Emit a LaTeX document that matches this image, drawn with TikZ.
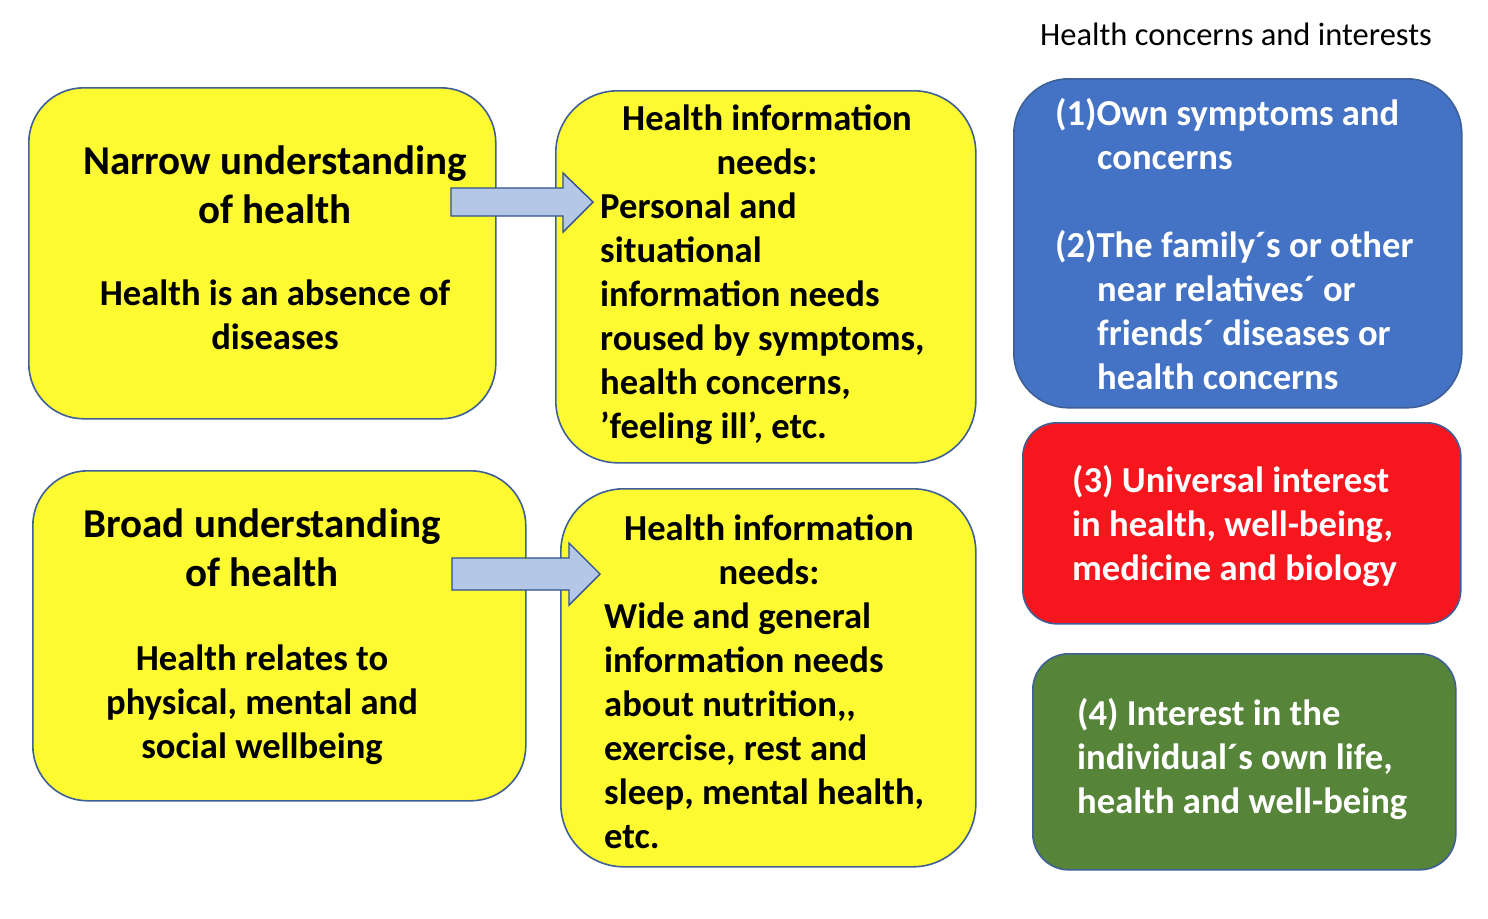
\documentclass[tikz,border=0pt]{standalone}
\usepackage{fontspec}
\setmainfont{Carlito}
\definecolor{yel}{RGB}{253,250,50}
\definecolor{bordc}{RGB}{62,96,150}
\definecolor{blu}{RGB}{68,114,196}
\definecolor{redc}{RGB}{246,22,30}
\definecolor{grn}{RGB}{86,132,56}
\definecolor{arrfill}{RGB}{180,199,231}
\definecolor{arrdraw}{RGB}{47,82,143}
\tikzset{
  box/.style={draw=bordc, line width=1.6pt, anchor=north west, inner sep=0pt},
  ybox/.style={box, fill=yel},
  head/.style={inner sep=0pt, font=\fontsize{41}{49}\selectfont\bfseries, text=black},
  body/.style={inner sep=0pt, font=\fontsize{36.6}{44}\selectfont\bfseries, text=black},
  wbody/.style={body, text=white},
  barrow/.style={draw=arrdraw, fill=arrfill, line width=1.4pt, line join=miter},
}
\begin{document}
\begin{tikzpicture}[x=1pt,y=-1pt]
\useasboundingbox (0,0) rectangle (1488,918);
% boxes
\node[ybox, minimum width=467pt, minimum height=331pt, rounded corners=55pt] (nar) at (28,87) {};
\node[ybox, minimum width=420pt, minimum height=372pt, rounded corners=62pt] (need1) at (555,90) {};
\node[ybox, minimum width=493pt, minimum height=330pt, rounded corners=55pt] (brd) at (32,470) {};
\node[ybox, minimum width=415pt, minimum height=378pt, rounded corners=63pt] (need2) at (560,488) {};
\node[box, fill=blu, minimum width=448pt, minimum height=329pt, rounded corners=55pt] (c12) at (1013,78) {};
\node[box, fill=redc, minimum width=438pt, minimum height=201pt, rounded corners=34pt] (c3) at (1022,422) {};
\node[box, fill=grn, minimum width=423pt, minimum height=216pt, rounded corners=36pt] (c4) at (1032,653) {};
% block arrows
\draw[barrow] (451,188) -- (563,188) -- (563,173) -- (593,202) -- (563,232) -- (563,216) -- (451,216) -- cycle;
\draw[barrow] (452,558) -- (569,558) -- (569,543) -- (600,574) -- (569,605) -- (569,590) -- (452,590) -- cycle;
% title
\node[inner sep=0pt, font=\fontsize{32.5}{38}\selectfont, anchor=base] (title) at (1236,45) {Health concerns and interests};
% box A
\node[head, anchor=base] (nA1) at (275,174) {Narrow understanding};
\node[head, anchor=base] (nA2) at (275,223) {of health};
\node[body, anchor=base] (nA3) at (275,305) {Health is an absence of};
\node[body, anchor=base] (nA4) at (275,349) {diseases};
% box B
\node[body, anchor=base] (nB1) at (767,130) {Health information};
\node[body, anchor=base] (nB2) at (767,174) {needs:};
\node[body, anchor=base west] (nB3) at (600,218) {Personal and};
\node[body, anchor=base west] (nB4) at (600,262) {situational};
\node[body, anchor=base west] (nB5) at (600,306) {information needs};
\node[body, anchor=base west] (nB6) at (600,350) {roused by symptoms,};
\node[body, anchor=base west] (nB7) at (600,394) {health concerns,};
\node[body, anchor=base west] (nB8) at (600,438) {’feeling ill’, etc.};
% box C
\node[head, anchor=base] (nC1) at (262,537) {Broad understanding};
\node[head, anchor=base] (nC2) at (262,586) {of health};
\node[body, anchor=base] (nC3) at (262,670) {Health relates to};
\node[body, anchor=base] (nC4) at (262,714) {physical, mental and};
\node[body, anchor=base] (nC5) at (262,758) {social wellbeing};
% box D
\node[body, anchor=base] (nD1) at (769,540) {Health information};
\node[body, anchor=base] (nD2) at (769,584) {needs:};
\node[body, anchor=base west] (nD3) at (604,628) {Wide and general};
\node[body, anchor=base west] (nD4) at (604,672) {information needs};
\node[body, anchor=base west] (nD5) at (604,716) {about nutrition,{},};
\node[body, anchor=base west] (nD6) at (604,760) {exercise, rest and};
\node[body, anchor=base west] (nD7) at (604,804) {sleep, mental health,};
\node[body, anchor=base west] (nD8) at (604,848) {etc.};
% blue
\node[wbody, anchor=base west] (nE1) at (1055,125) {(1)Own symptoms and};
\node[wbody, anchor=base west] (nE2) at (1097,169) {concerns};
\node[wbody, anchor=base west] (nE3) at (1055,257) {(2)The family´s or other};
\node[wbody, anchor=base west] (nE4) at (1097,301) {near relatives´ or};
\node[wbody, anchor=base west] (nE5) at (1097,345) {friends´ diseases or};
\node[wbody, anchor=base west] (nE6) at (1097,389) {health concerns};
% red
\node[wbody, anchor=base west] (nF1) at (1072,492) {(3) Universal interest};
\node[wbody, anchor=base west] (nF2) at (1072,536) {in health, well-being,};
\node[wbody, anchor=base west] (nF3) at (1072,580) {medicine and biology};
% green
\node[wbody, anchor=base west] (nG1) at (1077,725) {(4) Interest in the};
\node[wbody, anchor=base west] (nG2) at (1077,769) {individual´s own life,};
\node[wbody, anchor=base west] (nG3) at (1077,813) {health and well-being};
\end{tikzpicture}
\end{document}
